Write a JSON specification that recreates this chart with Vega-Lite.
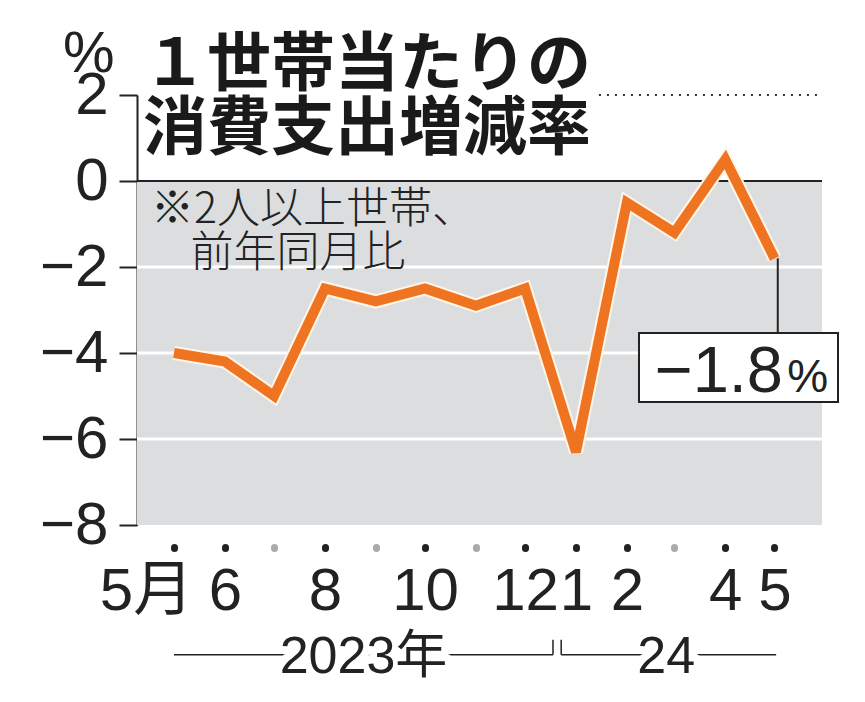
{
  "$schema": "https://vega.github.io/schema/vega-lite/v6.json",
  "width": 685,
  "height": 430,
  "autosize": "none",
  "padding": {"left": 137, "top": 95, "right": 43, "bottom": 177},
  "background": "white",
  "config": {"view": {"stroke": null}, "font": "Liberation Sans"},
  "title": {
    "text": ["１世帯当たりの", "消費支出増減率"],
    "anchor": "start",
    "frame": "group",
    "orient": "top",
    "font": "Noto Sans CJK JP",
    "fontSize": 64,
    "fontWeight": 700,
    "color": "#1a1a1a",
    "lineHeight": 64,
    "baseline": "alphabetic",
    "offset": 0,
    "dx": 6,
    "dy": 187
  },
  "datasets": {
    "spending": [
      {"date": "2023-05-01", "value": -4.0},
      {"date": "2023-06-01", "value": -4.2},
      {"date": "2023-07-01", "value": -5.0},
      {"date": "2023-08-01", "value": -2.5},
      {"date": "2023-09-01", "value": -2.8},
      {"date": "2023-10-01", "value": -2.5},
      {"date": "2023-11-01", "value": -2.9},
      {"date": "2023-12-01", "value": -2.5},
      {"date": "2024-01-01", "value": -6.3},
      {"date": "2024-02-01", "value": -0.5},
      {"date": "2024-03-01", "value": -1.2},
      {"date": "2024-04-01", "value": 0.5},
      {"date": "2024-05-01", "value": -1.8}
    ],
    "one": [{}],
    "grid": [{"g": -2}, {"g": -4}, {"g": -6}]
  },
  "data": {"name": "one"},
  "layer": [
    {
      "mark": {"type": "rect", "fill": "#DCDDDF"},
      "encoding": {
        "y": {"datum": 0, "type": "quantitative"},
        "y2": {"datum": -8}
      }
    },
    {
      "data": {"name": "grid"},
      "mark": {"type": "rule", "stroke": "white", "strokeWidth": 3},
      "encoding": {"y": {"field": "g", "type": "quantitative"}}
    },
    {
      "mark": {"type": "rule", "stroke": "#222", "strokeWidth": 2},
      "encoding": {"y": {"datum": 0, "type": "quantitative"}}
    },
    {
      "mark": {"type": "rule", "stroke": "#333", "strokeWidth": 2, "strokeDash": [2, 6]},
      "encoding": {
        "x": {"datum": {"year": 2024, "month": 1, "date": 15, "utc": true}, "type": "temporal"},
        "x2": {"datum": {"year": 2024, "month": 5, "date": 29, "utc": true}},
        "y": {"datum": 2, "type": "quantitative"}
      }
    },
    {
      "mark": {"type": "rule", "stroke": "#222", "strokeWidth": 2},
      "encoding": {
        "x": {"datum": {"year": 2024, "month": 5, "date": 3, "utc": true}, "type": "temporal"},
        "y": {"datum": -1.8, "type": "quantitative"},
        "y2": {"datum": -3.535}
      }
    },
    {
      "data": {"name": "spending"},
      "mark": {"type": "line", "stroke": "#FFF6E8", "strokeWidth": 14, "strokeJoin": "miter", "strokeCap": "butt"},
      "encoding": {
        "x": {"field": "date", "type": "temporal"},
        "y": {"field": "value", "type": "quantitative"}
      }
    },
    {
      "data": {"name": "spending"},
      "mark": {"type": "line", "stroke": "#EF7422", "strokeWidth": 10, "strokeJoin": "miter", "strokeCap": "butt"},
      "encoding": {
        "x": {
          "field": "date",
          "type": "temporal",
          "scale": {
            "type": "utc",
            "domain": [
              {"year": 2023, "month": 4, "date": 8, "hours": 11, "utc": true},
              {"year": 2024, "month": 5, "date": 29, "hours": 23, "utc": true}
            ]
          },
          "axis": {
            "values": [
              {"year": 2023, "month": 5, "date": 1, "utc": true},
              {"year": 2023, "month": 6, "date": 1, "utc": true},
              {"year": 2023, "month": 7, "date": 1, "utc": true},
              {"year": 2023, "month": 8, "date": 1, "utc": true},
              {"year": 2023, "month": 9, "date": 1, "utc": true},
              {"year": 2023, "month": 10, "date": 1, "utc": true},
              {"year": 2023, "month": 11, "date": 1, "utc": true},
              {"year": 2023, "month": 12, "date": 1, "utc": true},
              {"year": 2024, "month": 1, "date": 1, "utc": true},
              {"year": 2024, "month": 2, "date": 1, "utc": true},
              {"year": 2024, "month": 3, "date": 1, "utc": true},
              {"year": 2024, "month": 4, "date": 1, "utc": true},
              {"year": 2024, "month": 5, "date": 1, "utc": true}
            ],
            "labelExpr": "indexof([2,6,8,10], utcmonth(datum.value)) >= 0 ? '' : (utcyear(datum.value) == 2023 && utcmonth(datum.value) == 4 ? '5月' : '' + (utcmonth(datum.value) + 1))",
            "title": null,
            "domain": false,
            "grid": false,
            "offset": 22,
            "tickSize": 1,
            "tickWidth": 7,
            "tickCap": "round",
            "tickColor": {"condition": {"test": "indexof([2,6,8,10], utcmonth(datum.value)) >= 0", "value": "#aaaaaa"}, "value": "#222222"},
            "labelFont": "Liberation Sans, Noto Sans CJK JP",
            "labelFontSize": 60,
            "labelColor": "#222",
            "labelPadding": 14,
            "labelBaseline": "top",
            "labelOverlap": false,
            "labelFlush": false,
            "labelBound": false,
            "labelOffset": {"condition": {"test": "utcyear(datum.value) == 2023 && utcmonth(datum.value) == 4", "value": -28}, "value": 0}
          }
        },
        "y": {
          "field": "value",
          "type": "quantitative",
          "scale": {"domain": [-8, 2], "nice": false, "zero": false},
          "axis": {
            "values": [-8, -6, -4, -2, 0, 2],
            "format": "d",
            "title": null,
            "labelFont": "Liberation Sans",
            "labelFontSize": 60,
            "labelColor": "#222",
            "labelPadding": 11,
            "labelBaseline": "middle",
            "tickSize": 18,
            "tickWidth": 2,
            "tickColor": "#222",
            "domainColor": "#222",
            "domainWidth": 2,
            "grid": false
          }
        }
      }
    },
    {
      "mark": {"type": "text", "align": "center", "baseline": "alphabetic", "font": "Liberation Sans", "fontSize": 58, "color": "#222"},
      "encoding": {
        "x": {"datum": {"year": 2023, "month": 3, "date": 10, "utc": true}, "type": "temporal"},
        "y": {"datum": 2.535, "type": "quantitative"},
        "text": {"value": "%"}
      }
    },
    {
      "mark": {"type": "rect", "fill": "white", "stroke": "#222", "strokeWidth": 2},
      "encoding": {
        "x": {"datum": {"year": 2024, "month": 2, "date": 8, "hours": 10, "utc": true}, "type": "temporal"},
        "x2": {"datum": {"year": 2024, "month": 6, "date": 8, "hours": 17, "utc": true}},
        "y": {"datum": -3.535, "type": "quantitative"},
        "y2": {"datum": -5.14}
      }
    },
    {
      "data": {"name": "spending"},
      "transform": [{"filter": "utcyear(toDate(datum.date)) == 2024 && utcmonth(toDate(datum.date)) == 4"}],
      "mark": {"type": "text", "align": "right", "baseline": "alphabetic", "font": "Liberation Sans", "fontSize": 65, "color": "#222"},
      "encoding": {
        "x": {"datum": {"year": 2024, "month": 5, "date": 6, "hours": 5, "utc": true}, "type": "temporal"},
        "y": {"datum": -4.907, "type": "quantitative"},
        "text": {"field": "value", "type": "quantitative", "format": ".1f"}
      }
    },
    {
      "mark": {"type": "text", "align": "left", "baseline": "alphabetic", "font": "Liberation Sans", "fontSize": 46, "color": "#222"},
      "encoding": {
        "x": {"datum": {"year": 2024, "month": 5, "date": 8, "hours": 17, "utc": true}, "type": "temporal"},
        "y": {"datum": -4.907, "type": "quantitative"},
        "text": {"value": "%"}
      }
    },
    {
      "mark": {"type": "text", "align": "left", "baseline": "alphabetic", "font": "Noto Sans CJK JP", "fontWeight": 300, "fontSize": 43, "color": "#222"},
      "encoding": {
        "x": {"datum": {"year": 2023, "month": 4, "date": 17, "utc": true}, "type": "temporal"},
        "y": {"datum": -0.977, "type": "quantitative"},
        "text": {"value": "※2人以上世帯、"}
      }
    },
    {
      "mark": {"type": "text", "align": "left", "baseline": "alphabetic", "font": "Noto Sans CJK JP", "fontWeight": 300, "fontSize": 43, "color": "#222"},
      "encoding": {
        "x": {"datum": {"year": 2023, "month": 5, "date": 11, "utc": true}, "type": "temporal"},
        "y": {"datum": -2.0, "type": "quantitative"},
        "text": {"value": "前年同月比"}
      }
    },
    {
      "mark": {"type": "rule", "stroke": "#222", "strokeWidth": 1.5},
      "encoding": {
        "x": {"datum": {"year": 2023, "month": 5, "date": 1, "utc": true}, "type": "temporal"},
        "x2": {"datum": {"year": 2023, "month": 12, "date": 18, "utc": true}},
        "y": {"datum": -11.02, "type": "quantitative"}
      }
    },
    {
      "mark": {"type": "rule", "stroke": "#222", "strokeWidth": 1.5},
      "encoding": {
        "x": {"datum": {"year": 2023, "month": 12, "date": 18, "utc": true}, "type": "temporal"},
        "y": {"datum": -10.67, "type": "quantitative"},
        "y2": {"datum": -11.02}
      }
    },
    {
      "mark": {"type": "rule", "stroke": "#222", "strokeWidth": 1.5},
      "encoding": {
        "x": {"datum": {"year": 2023, "month": 12, "date": 23, "utc": true}, "type": "temporal"},
        "x2": {"datum": {"year": 2024, "month": 5, "date": 2, "utc": true}},
        "y": {"datum": -11.02, "type": "quantitative"}
      }
    },
    {
      "mark": {"type": "rule", "stroke": "#222", "strokeWidth": 1.5},
      "encoding": {
        "x": {"datum": {"year": 2023, "month": 12, "date": 23, "utc": true}, "type": "temporal"},
        "y": {"datum": -10.67, "type": "quantitative"},
        "y2": {"datum": -11.02}
      }
    },
    {
      "mark": {"type": "text", "align": "center", "baseline": "alphabetic", "font": "Liberation Sans, Noto Sans CJK JP", "fontSize": 52, "fill": "white", "stroke": "white", "strokeWidth": 16, "strokeJoin": "round"},
      "encoding": {
        "x": {"datum": {"year": 2023, "month": 8, "date": 24, "hours": 12, "utc": true}, "type": "temporal"},
        "y": {"datum": -11.44, "type": "quantitative"},
        "text": {"value": "2023年"}
      }
    },
    {
      "mark": {"type": "text", "align": "center", "baseline": "alphabetic", "font": "Liberation Sans, Noto Sans CJK JP", "fontSize": 52, "color": "#222"},
      "encoding": {
        "x": {"datum": {"year": 2023, "month": 8, "date": 24, "hours": 12, "utc": true}, "type": "temporal"},
        "y": {"datum": -11.44, "type": "quantitative"},
        "text": {"value": "2023年"}
      }
    },
    {
      "mark": {"type": "text", "align": "center", "baseline": "alphabetic", "font": "Liberation Sans", "fontSize": 52, "fill": "white", "stroke": "white", "strokeWidth": 16, "strokeJoin": "round"},
      "encoding": {
        "x": {"datum": {"year": 2024, "month": 2, "date": 25, "utc": true}, "type": "temporal"},
        "y": {"datum": -11.44, "type": "quantitative"},
        "text": {"value": "24"}
      }
    },
    {
      "mark": {"type": "text", "align": "center", "baseline": "alphabetic", "font": "Liberation Sans", "fontSize": 52, "color": "#222"},
      "encoding": {
        "x": {"datum": {"year": 2024, "month": 2, "date": 25, "utc": true}, "type": "temporal"},
        "y": {"datum": -11.44, "type": "quantitative"},
        "text": {"value": "24"}
      }
    }
  ]
}
